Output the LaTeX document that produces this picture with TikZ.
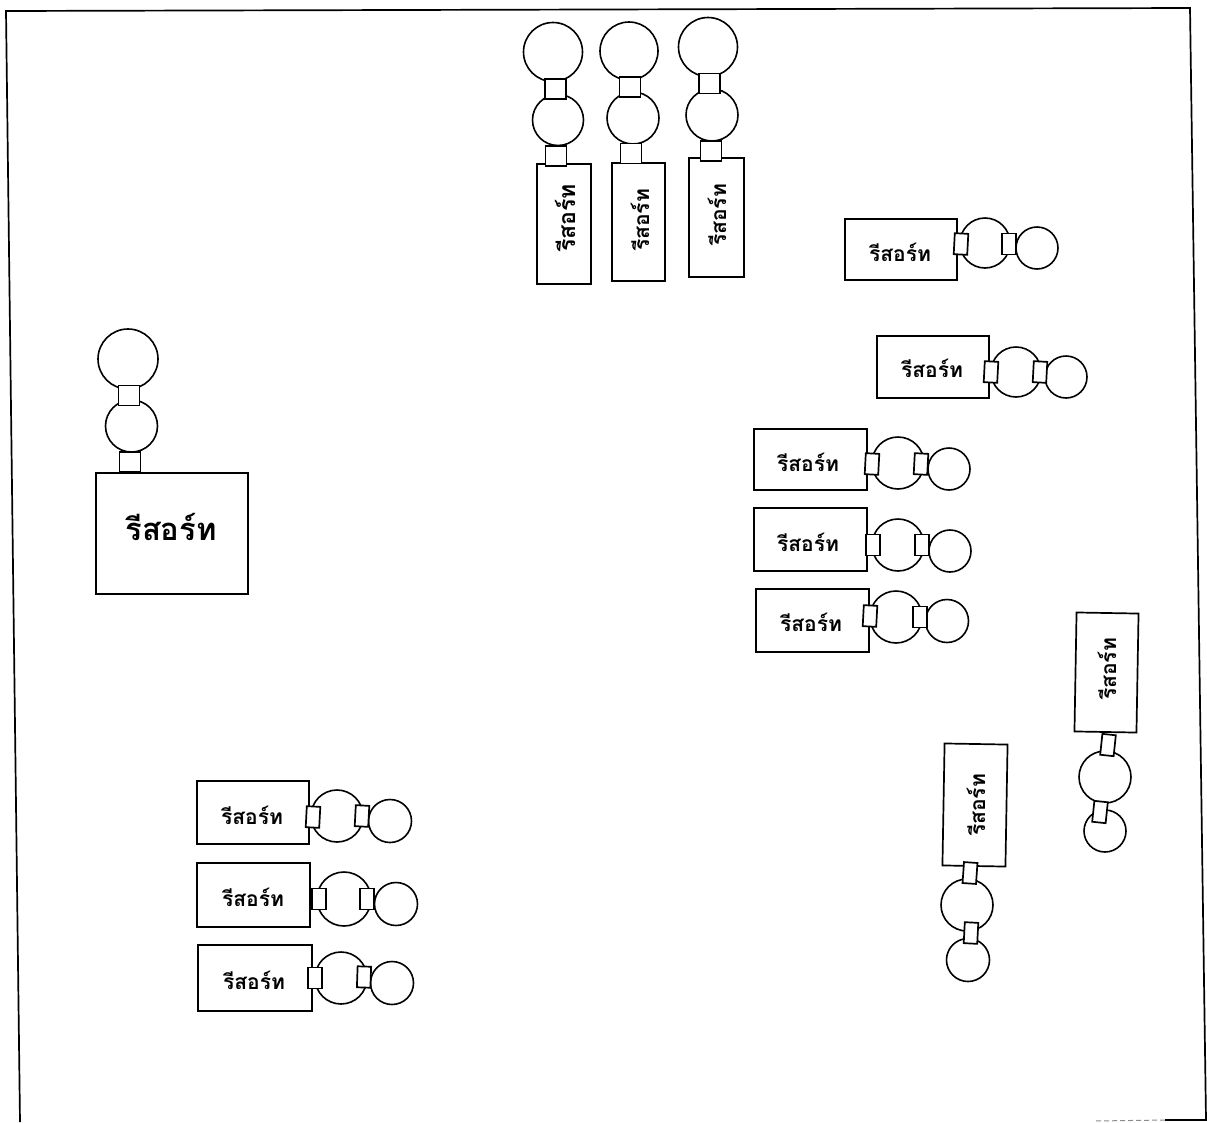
\documentclass[tikz,border=0pt]{standalone}
\usepackage{fontspec}
\newfontfamily\thaifont[Script=Thai]{Loma}
\tikzset{
  ringbig/.style={circle,draw=black,fill=white,line width=1.6pt,inner sep=0pt,minimum size=#1},
  plug/.style={rectangle,draw=black,fill=white,line width=1.7pt,inner sep=0pt,minimum width=#1},
  plugh/.style={plug=13.5pt,minimum height=21pt},
  plugv/.style={plug=21pt,minimum height=20pt},
  plugt/.style={plug=13.5pt,minimum height=21pt},
  lodge/.style={rectangle,draw=black,fill=white,line width=1.7pt,inner sep=0pt},
  lbl/.style={font=\thaifont\bfseries\fontsize{21}{24}\selectfont,text=black,inner sep=0pt},
  lbllong/.style={font=\thaifont\bfseries\fontsize{23}{26}\selectfont,text=black,inner sep=0pt},
  lblbig/.style={font=\thaifont\bfseries\fontsize{31}{36}\selectfont,text=black,inner sep=0pt},
  framel/.style={line width=1.7pt,draw=black}
}
\begin{document}
\begin{tikzpicture}[x=1pt,y=-1pt]
\useasboundingbox (0,0) rectangle (1207,1122);
% frame
\coordinate (tl) at (6,11);
\coordinate (tr) at (1190,8);
\coordinate (br) at (1206,1120);
\coordinate (bl) at (20,1122);
\coordinate (bs) at (1165,1120);
\coordinate (bf) at (1095,1121);
\draw[framel] (bl) -- (tl) -- (tr) -- (br) -- (bs);
\draw[line width=1pt,draw=black!45,dash pattern=on 5pt off 3pt] (bs) -- (bf);
% top group 1
\node[ringbig=59pt] (a1) at (553,52) {};
\node[ringbig=51pt] (a2) at (558,120) {};
\node[plugv] (a3) at (555.5,89) {};
\node[lodge,minimum width=54pt,minimum height=120pt] (a5) at (564,224) {};
\node[plugv] (a4) at (556,156) {};
\node[lbllong,rotate=90] (a6) at (565,218) {รีสอร์ท};
% top group 2
\node[ringbig=58pt] (b1) at (629,51) {};
\node[ringbig=52pt] (b2) at (633,118) {};
\node[plugv] (b3) at (630,87) {};
\node[lodge,minimum width=53pt,minimum height=118pt] (b5) at (638.5,222) {};
\node[plugv] (b4) at (631,153.5) {};
\node[lbl,rotate=90] (b6) at (640,220) {รีสอร์ท};
% top group 3
\node[ringbig=59pt] (c1) at (708,47) {};
\node[ringbig=52pt] (c2) at (712,115) {};
\node[plugv] (c3) at (709.5,83.5) {};
\node[lodge,minimum width=55pt,minimum height=119pt] (c5) at (716.5,217.5) {};
\node[plugv] (c4) at (711,151) {};
\node[lbl,rotate=90] (c6) at (717,215) {รีสอร์ท};
% left large
\node[ringbig=60pt] (d1) at (128,359) {};
\node[ringbig=52pt] (d2) at (131.5,426) {};
\node[plugv] (d3) at (129,395.5) {};
\node[lodge,minimum width=152pt,minimum height=121pt] (d5) at (172,533.5) {};
\node[plugv] (d4) at (130,462) {};
\node[lblbig] (d6) at (171,527) {รีสอร์ท};
% right row D
\node[lodge,minimum width=112pt,minimum height=61pt] (e5) at (901,249.5) {};
\node[ringbig=50pt] (e2) at (985,243) {};
\node[ringbig=42pt] (e1) at (1037,248) {};
\node[plugh,rotate=-3] (e4) at (961,244) {};
\node[plugh] (e3) at (1009,244) {};
\node[lbl] (e6) at (900,252) {รีสอร์ท};
% right row E
\node[lodge,minimum width=112pt,minimum height=62pt] (f5) at (933,367) {};
\node[ringbig=50pt] (f2) at (1016,372) {};
\node[ringbig=42pt] (f1) at (1066,377) {};
\node[plugh,rotate=-3] (f4) at (991,372) {};
\node[plugh,rotate=-3] (f3) at (1040,372) {};
\node[lbl] (f6) at (932,368) {รีสอร์ท};
% right row A
\node[lodge,minimum width=113pt,minimum height=61pt] (g5) at (810.5,459.5) {};
\node[ringbig=52pt] (g2) at (898,463) {};
\node[ringbig=42pt] (g1) at (949,469) {};
\node[plugh,rotate=-3] (g4) at (872,464) {};
\node[plugh,rotate=-3] (g3) at (921,464) {};
\node[lbl] (g6) at (808,462) {รีสอร์ท};
% right row B
\node[lodge,minimum width=113pt,minimum height=63pt] (h5) at (810.5,539.5) {};
\node[ringbig=52pt] (h2) at (898,545) {};
\node[ringbig=42pt] (h1) at (950,551) {};
\node[plugh] (h4) at (873,545) {};
\node[plugh] (h3) at (922,545) {};
\node[lbl] (h6) at (808,542) {รีสอร์ท};
% right row C
\node[lodge,minimum width=113pt,minimum height=63pt] (i5) at (812.5,620.5) {};
\node[ringbig=52pt] (i2) at (896,617) {};
\node[ringbig=43pt] (i1) at (947,621) {};
\node[plugh,rotate=-3] (i4) at (870,616) {};
\node[plugh] (i3) at (920,617) {};
\node[lbl] (i6) at (811,622) {รีสอร์ท};
% bottom-left row F
\node[lodge,minimum width=112pt,minimum height=63pt] (j5) at (253,812.5) {};
\node[ringbig=52pt] (j2) at (337,816) {};
\node[ringbig=43pt] (j1) at (390,821) {};
\node[plugh,rotate=-3] (j4) at (313,817) {};
\node[plugh,rotate=-3] (j3) at (362,816) {};
\node[lbl] (j6) at (252,815) {รีสอร์ท};
% bottom-left row G
\node[lodge,minimum width=113pt,minimum height=64pt] (k5) at (253.5,895) {};
\node[ringbig=54pt] (k2) at (344,899) {};
\node[ringbig=43pt] (k1) at (396,904) {};
\node[plugh] (k4) at (319,899) {};
\node[plugh] (k3) at (367,899) {};
\node[lbl] (k6) at (253,897) {รีสอร์ท};
% bottom-left row H
\node[lodge,minimum width=114pt,minimum height=66pt] (l5) at (255,978) {};
\node[ringbig=52pt] (l2) at (341,978) {};
\node[ringbig=43pt] (l1) at (392,983) {};
\node[plugh] (l4) at (315,978) {};
\node[plugh,rotate=-2] (l3) at (364,977) {};
\node[lbl] (l6) at (254,980) {รีสอร์ท};
% vertical right
\node[lodge,minimum width=62pt,minimum height=119pt,rotate=-1] (m5) at (1106.5,672.5) {};
\node[ringbig=52pt] (m2) at (1105,777) {};
\node[ringbig=42pt] (m1) at (1105,831) {};
\node[plugt,rotate=-6] (m4) at (1108,745) {};
\node[plugt,rotate=-6] (m3) at (1100,812) {};
\node[lbl,rotate=90] (m6) at (1107,669) {รีสอร์ท};
% vertical left
\node[lodge,minimum width=63pt,minimum height=122pt,rotate=-1] (n5) at (975,805) {};
\node[ringbig=52pt] (n2) at (967,905) {};
\node[ringbig=43pt] (n1) at (968,960) {};
\node[plugt,rotate=-4] (n4) at (970,873) {};
\node[plugt,rotate=-3] (n3) at (971,933) {};
\node[lbl,rotate=90] (n6) at (976,805) {รีสอร์ท};
\end{tikzpicture}
\end{document}
